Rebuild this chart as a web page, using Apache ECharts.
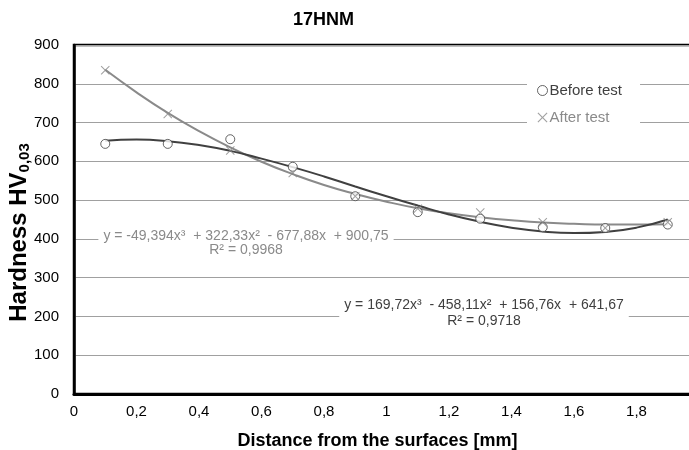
<!DOCTYPE html>
<html>
<head>
<meta charset="utf-8">
<script src="https://cdn.jsdelivr.net/npm/echarts@6/dist/echarts.min.js"></script>
<style>html,body{margin:0;padding:0;background:#fff}#c{width:689px;height:450px}</style>
</head>
<body>
<div id="c"></div>
<script>
var distances = [0.1, 0.3, 0.5, 0.7, 0.9, 1.1, 1.3, 1.5, 1.7, 1.9];
var beforeTest = [645, 645, 657, 586, 510, 469, 452, 430, 428, 437];
var afterTest = [835, 722, 628, 570, 510, 478, 468, 443, 428, 443];
var trendX = [0.1, 0.2, 0.3, 0.4, 0.5, 0.6, 0.7, 0.8, 0.9, 1.0, 1.1, 1.2, 1.3, 1.4, 1.5, 1.6, 1.7, 1.8, 1.9];
var beforeTrend = [653, 656, 652, 642, 627, 607, 585, 561, 535, 510, 486, 463, 444, 429, 419, 415, 418, 429, 450];
var afterTrend = [836, 778, 725, 678, 636, 599, 567, 539, 516, 496, 479, 466, 456, 448, 442, 439, 437, 437, 438];
var seriesNames = ['Before test', 'After test'];
var eqBefore = 'y = 169,72x³  - 458,11x²  + 156,76x  + 641,67\nR² = 0,9718';
var eqAfter = 'y = -49,394x³  + 322,33x²  - 677,88x  + 900,75\nR² = 0,9968';

var FONT = '"Liberation Sans", Arial, sans-serif';
var DARK = '#404040', LIGHT = '#8a8a8a';
var XPATH = 'path://M0,0.8L0.8,0L5,4.2L9.2,0L10,0.8L5.8,5L10,9.2L9.2,10L5,5.8L0.8,10L0,9.2L4.2,5Z';

function pairs(xs, ys) { return xs.map(function (x, i) { return [x, ys[i]]; }); }

var chart = echarts.init(document.getElementById('c'));
chart.setOption({
  animation: false,
  backgroundColor: '#fff',
  title: {
    text: '17HNM', left: 288, top: 6,
    textStyle: { fontFamily: FONT, fontSize: 18, fontWeight: 'bold', color: '#000' }
  },
  grid: { left: 74, width: 625, top: 45, bottom: 56, containLabel: false, outerBoundsMode: 'none',
    show: true, borderColor: '#000', borderWidth: 2.5, backgroundColor: 'transparent' },
  legend: {
    orient: 'vertical', left: 527, top: 79,
    backgroundColor: '#fff', padding: [4, 18, 4, 10], itemGap: 12,
    itemWidth: 10, itemHeight: 10,
    data: [
      { name: seriesNames[0], icon: 'circle', itemStyle: { color: '#fff', borderColor: DARK, borderWidth: 1 }, textStyle: { color: DARK } },
      { name: seriesNames[1], icon: XPATH, itemStyle: { color: LIGHT }, textStyle: { color: LIGHT } }
    ],
    textStyle: { fontFamily: FONT, fontSize: 15, padding: [0, 0, 0, -3] }
  },
  xAxis: {
    type: 'value', min: 0, max: 2, interval: 0.2,
    name: 'Distance from the surfaces [mm]', nameLocation: 'middle', nameGap: 38, nameMoveOverlap: false,
    nameTextStyle: { fontFamily: FONT, fontSize: 18, fontWeight: 'bold', color: '#000', padding: [0, 0, 0, -18] },
    axisLine: { lineStyle: { color: '#000', width: 3 } },
    axisTick: { show: false },
    splitLine: { show: false },
    axisLabel: { fontFamily: FONT, fontSize: 15, color: '#000', margin: 10,
      formatter: function (v) { return String(+v.toFixed(1)).replace('.', ','); } }
  },
  yAxis: {
    type: 'value', min: 0, max: 900, interval: 100,
    name: 'Hardness HV{sub|0,03}', nameLocation: 'middle', nameGap: 42, nameRotate: 90, nameMoveOverlap: false,
    nameTextStyle: { fontFamily: FONT, fontSize: 24, fontWeight: 'bold', color: '#000', padding: [0, 26, 0, 0],
      rich: { sub: { fontFamily: FONT, fontSize: 15, fontWeight: 'bold', color: '#000', verticalAlign: 'bottom', padding: [10, 0, 0, 0] } } },
    axisLine: { show: true, lineStyle: { color: '#000', width: 2.5 } },
    axisTick: { show: false },
    splitLine: { lineStyle: { color: '#a0a0a0', width: 1 } },
    axisLabel: { fontFamily: FONT, fontSize: 15, color: '#000', margin: 15 }
  },
  series: [
    { name: seriesNames[0] + ' trend', type: 'line', data: pairs(trendX, beforeTrend), smooth: true, showSymbol: false,
      lineStyle: { color: DARK, width: 2 }, z: 3, silent: true },
    { name: seriesNames[1] + ' trend', type: 'line', data: pairs(trendX, afterTrend), smooth: true, showSymbol: false,
      lineStyle: { color: LIGHT, width: 2 }, z: 2, silent: true },
    { name: seriesNames[0], type: 'scatter', data: pairs(distances, beforeTest), symbol: 'circle', symbolSize: 9,
      itemStyle: { color: '#fff', borderColor: DARK, borderWidth: 1 }, z: 5 },
    { name: seriesNames[1], type: 'scatter', data: pairs(distances, afterTest), symbol: XPATH, symbolSize: 9,
      itemStyle: { color: LIGHT }, z: 5 }
  ],
  graphic: [
    { type: 'text', x: 246, y: 229, z: 10,
      style: { text: eqAfter, fill: LIGHT, font: '14px ' + FONT, align: 'center', verticalAlign: 'top', lineHeight: 14, backgroundColor: '#fff', padding: [0, 5, 0, 5] } },
    { type: 'text', x: 484, y: 297, z: 10,
      style: { text: eqBefore, fill: DARK, font: '14px ' + FONT, align: 'center', verticalAlign: 'top', lineHeight: 16, backgroundColor: '#fff', padding: [0, 5, 0, 5] } }
  ]
});
</script>
</body>
</html>
